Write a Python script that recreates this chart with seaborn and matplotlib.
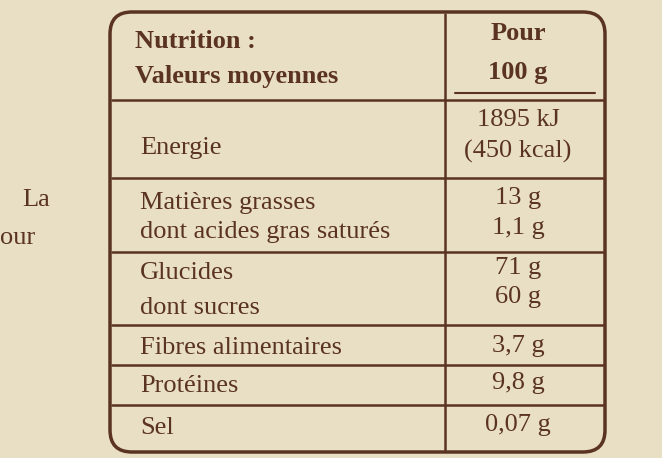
import matplotlib
matplotlib.use("Agg")
import matplotlib.pyplot as plt
import seaborn as sns
from matplotlib.patches import FancyBboxPatch

sns.set_theme(style="white")
plt.rcParams['font.family'] = ['Liberation Serif', 'DejaVu Serif']

header_left = ["Nutrition :", "Valeurs moyennes"]
header_right = ["Pour", "100 g"]
labels = ["Energie", "Matières grasses", "dont acides gras saturés", "Glucides",
          "dont sucres", "Fibres alimentaires", "Protéines", "Sel"]
label_y = [148, 203, 232, 273, 308, 348, 386, 428]
values = ["1895 kJ", "(450 kcal)", "13 g", "1,1 g", "71 g", "60 g", "3,7 g", "9,8 g", "0,07 g"]
value_y = [120, 151, 198, 228, 268, 297, 346, 383, 425]
row_lines = [178, 252, 325, 365, 405]

bg = "#e9dfc4"
ink = "#5a3322"

fig = plt.figure(figsize=(6.62, 4.58), dpi=100, facecolor=bg)
ax = fig.add_axes([0, 0, 1, 1])
ax.set_facecolor(bg)
ax.set_xlim(0, 662)
ax.set_ylim(458, 0)
ax.axis("off")

ax.add_patch(FancyBboxPatch((110, 12), 495, 440, boxstyle="round,pad=0,rounding_size=22",
                            fill=False, ec=ink, lw=2.5))
ax.plot([445, 445], [14, 450], color=ink, lw=1.8)
ax.plot([455, 595], [93, 93], color=ink, lw=1.5)
ax.plot([112, 603], [100, 100], color=ink, lw=1.8)
for y in row_lines:
    ax.plot([112, 603], [y, y], color=ink, lw=1.8)

kw = dict(color=ink, fontsize=19, va="center")
ax.text(135, 42, header_left[0], fontweight="bold", **kw)
ax.text(135, 76, header_left[1], fontweight="bold", **kw)
ax.text(518, 33, header_right[0], ha="center", fontweight="bold", **kw)
ax.text(518, 72, header_right[1], ha="center", fontweight="bold", **kw)
for t, y in zip(labels, label_y):
    ax.text(140, y, t, **kw)
for t, y in zip(values, value_y):
    ax.text(518, y, t, ha="center", **kw)
ax.text(22, 200, "La", **kw)
ax.text(0, 238, "our", **kw)

fig.savefig("out.png", dpi=100, facecolor=bg)
